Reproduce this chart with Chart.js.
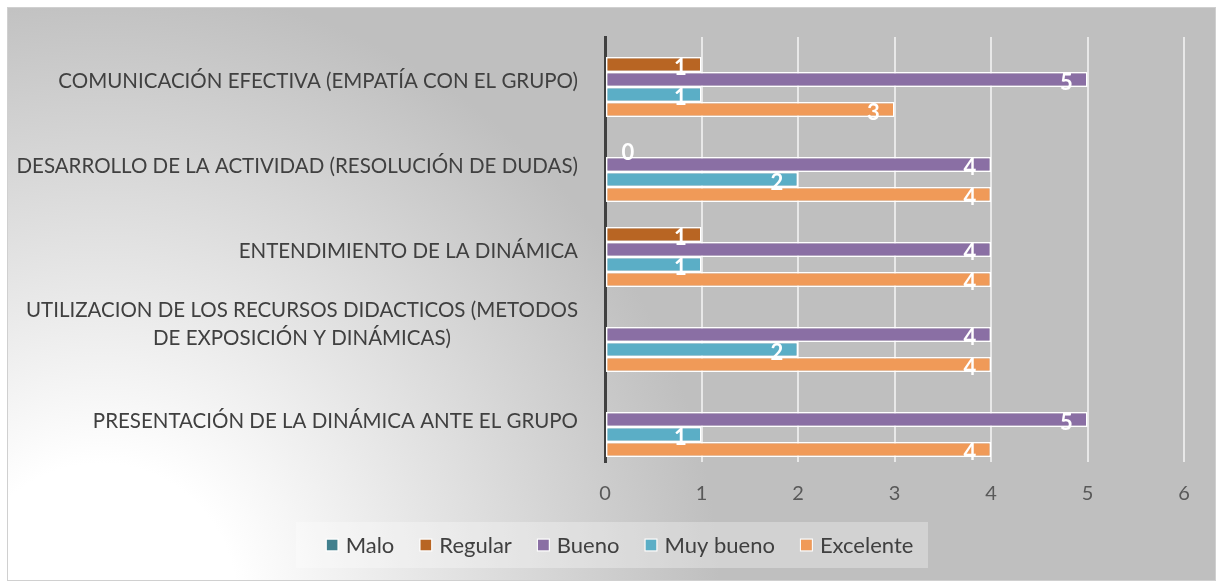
<!DOCTYPE html>
<html><head><meta charset="utf-8">
<script src="https://cdn.jsdelivr.net/npm/chart.js@4"></script>
<style>html,body{margin:0;padding:0;background:#fff;overflow:hidden}#wrap{width:1216px;height:581px;position:relative}</style>
</head><body><div id="wrap"><canvas id="c" width="1216" height="581"></canvas></div>
<script>
const categories = [
  ["COMUNICACIÓN EFECTIVA (EMPATÍA CON EL GRUPO)"],
  ["DESARROLLO DE LA ACTIVIDAD (RESOLUCIÓN DE DUDAS)"],
  ["ENTENDIMIENTO DE LA DINÁMICA"],
  ["UTILIZACION DE LOS RECURSOS DIDACTICOS (METODOS", "DE EXPOSICIÓN Y DINÁMICAS)"],
  ["PRESENTACIÓN DE LA DINÁMICA ANTE EL GRUPO"]
];
const seriesNames = ["Malo", "Regular", "Bueno", "Muy bueno", "Excelente"];
const malo      = [null, null, null, null, null];
const regular   = [1, 0, 1, null, null];
const bueno     = [5, 4, 4, 4, 5];
const muyBueno  = [1, 2, 1, 2, 1];
const excelente = [3, 4, 4, 4, 4];
const xTicks = [0, 1, 2, 3, 4, 5, 6];

const colors = ["#41808E", "#B86523", "#8A6FA4", "#5BAEC6", "#F09A58"];
const FONT = "Lato, 'Open Sans', sans-serif";
const seriesValues = [malo, regular, bueno, muyBueno, excelente];

const bgPlugin = {
  id: 'bg',
  beforeDraw(chart) {
    const ctx = chart.ctx;
    ctx.save();
    ctx.fillStyle = '#fff';
    ctx.fillRect(0, 0, chart.width, chart.height);
    const g = ctx.createRadialGradient(100, 600, 0, 100, 600, 620);
    g.addColorStop(0, '#ffffff');
    g.addColorStop(0.22, '#ffffff');
    g.addColorStop(1, '#bfbfbf');
    ctx.fillStyle = g;
    ctx.fillRect(7, 7, chart.width - 7, chart.height - 7);
    ctx.strokeStyle = '#d0d0d0';
    ctx.lineWidth = 1;
    ctx.strokeRect(7.5, 7.5, chart.width - 8, chart.height - 8);
    ctx.restore();
  }
};

const labelPlugin = {
  id: 'vals',
  afterDatasetsDraw(chart) {
    const ctx = chart.ctx;
    ctx.save();
    ctx.font = "bold 22px " + FONT;
    ctx.fillStyle = '#ffffff';
    ctx.textAlign = 'center';
    ctx.textBaseline = 'middle';
    chart.data.datasets.forEach((ds, di) => {
      const meta = chart.getDatasetMeta(di);
      meta.data.forEach((el, i) => {
        const v = ds.data[i];
        if (v === null || v === undefined) return;
        const x = v > 0 ? el.x - 21 : el.x + 23;
        ctx.fillText(String(v), x, el.y + 3);
      });
    });
    ctx.restore();
  }
};

const yLabelPlugin = {
  id: 'ylabels',
  afterDraw(chart) {
    const ctx = chart.ctx;
    const ys = chart.scales.y;
    ctx.save();
    ctx.font = "20.5px " + FONT;
    ctx.fillStyle = '#404040';
    ctx.textBaseline = 'middle';
    const right = 578;
    categories.forEach((lines, i) => {
      const cy = ys.getPixelForValue(i);
      if (lines.length === 1) {
        ctx.textAlign = 'right';
        ctx.fillText(lines[0], right, cy + 2);
      } else {
        const w = Math.max(...lines.map(l => ctx.measureText(l).width));
        const cx = right - w / 2;
        ctx.textAlign = 'center';
        const lh = 28;
        const start = cy - 10 - lh * (lines.length - 1) / 2;
        lines.forEach((l, k) => ctx.fillText(l, cx, start + k * lh));
      }
    });
    ctx.restore();
  }
};

const legendPlugin = {
  id: 'customLegend',
  afterDraw(chart) {
    const ctx = chart.ctx;
    ctx.save();
    ctx.fillStyle = 'rgba(255,255,255,0.3)';
    ctx.fillRect(296, 522, 632, 46);
    ctx.font = "22px " + FONT;
    const mk = 11, g1 = 8, g2 = 26;
    const widths = seriesNames.map(n => ctx.measureText(n).width);
    const total = widths.reduce((a, w) => a + mk + g1 + w, 0) + g2 * (seriesNames.length - 1);
    let x = 620 - total / 2;
    const cy = 545;
    ctx.textBaseline = 'middle';
    ctx.textAlign = 'left';
    seriesNames.forEach((n, i) => {
      ctx.fillStyle = colors[i];
      ctx.fillRect(x, cy - mk / 2, mk, mk);
      ctx.strokeStyle = '#ffffff';
      ctx.lineWidth = 1;
      ctx.strokeRect(x - 0.5, cy - mk / 2 - 0.5, mk + 1, mk + 1);
      ctx.fillStyle = '#404040';
      ctx.fillText(n, x + mk + g1, cy + 1);
      x += mk + g1 + widths[i] + g2;
    });
    ctx.restore();
  }
};

new Chart(document.getElementById('c'), {
  type: 'bar',
  data: {
    labels: categories,
    datasets: seriesNames.map((n, i) => ({
      label: n,
      data: seriesValues[i],
      backgroundColor: colors[i],
      borderColor: '#ffffff',
      borderWidth: 1.5,
      borderSkipped: false,
      barPercentage: 1,
      categoryPercentage: 0.88
    }))
  },
  options: {
    indexAxis: 'y',
    responsive: false,
    animation: false,
    devicePixelRatio: 1,
    layout: { padding: { left: 7, right: 32, top: 37, bottom: 69 } },
    plugins: { legend: { display: false }, tooltip: { enabled: false } },
    scales: {
      x: {
        min: xTicks[0], max: xTicks[xTicks.length - 1],
        afterBuildTicks(s) { s.ticks = xTicks.map(v => ({ value: v })); },
        ticks: { color: '#595959', font: { family: FONT, size: 20 }, padding: 20 },
        grid: { color: '#e8e8e8', lineWidth: 2, drawTicks: false },
        border: { display: false },
        afterFit(s) { s.height = 50; }
      },
      y: {
        ticks: { display: false },
        grid: { display: false, drawTicks: false },
        border: { display: true, color: '#404040', width: 3 },
        afterFit(s) { s.width = 598; }
      }
    }
  },
  plugins: [bgPlugin, labelPlugin, yLabelPlugin, legendPlugin]
});
</script>
</body></html>
